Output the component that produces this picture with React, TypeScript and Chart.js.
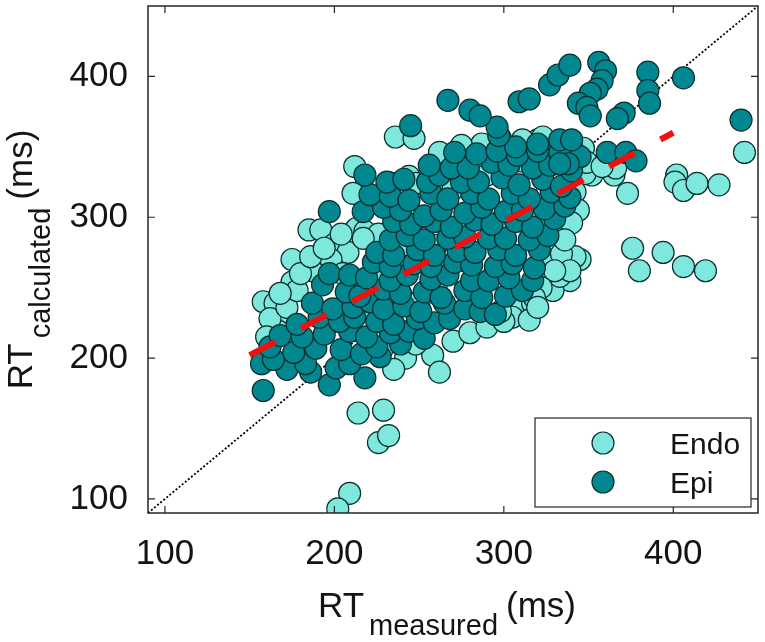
import { useEffect, useRef } from 'react';
import { Chart, registerables } from 'chart.js';

Chart.register(...registerables);

// RT measured / RT calculated (ms)
const endoPoints: [number, number][] = [
  [236, 357], [247, 356], [442, 346], [402, 330], [401, 325], [406, 319], [414, 324], [427, 323],
  [373, 317], [365, 330], [352, 330], [348, 331], [376, 278], [380, 262], [394, 275], [406, 265], [419, 262],
  [345, 270], [342, 272], [339, 255], [325, 253], [329, 248], [331, 265], [333, 258],
  [212, 336], [234, 324], [211, 317], [244, 329], [248, 324],
  [185, 291], [192, 291], [200, 281], [175, 270], [175, 254], [187, 262], [158, 240], [165, 239],
  [169, 226], [167, 219], [208, 275], [198, 270], [213, 292], [218, 290], [226, 288],
  [214, 161], [229, 163], [226, 140], [232, 145], [209, 104], [202, 93],
  [242, 200], [258, 202], [262, 190], [235, 192], [228, 206], [248, 210],
  [308, 231], [315, 233], [305, 236], [311, 236], [317, 239], [305, 229], [315, 227],
  [332, 291], [332, 297], [328, 267], [334, 274], [339, 262],
  [334, 352], [320, 355], [325, 352], [323, 357], [346, 344], [347, 349], [349, 339], [366, 335],
  [287, 352], [311, 355], [262, 346], [275, 351], [298, 356], [340, 350], [358, 336],
  [342, 318], [344, 305], [340, 296], [336, 284], [330, 262], [322, 250], [318, 243],
  [270, 212], [280, 218], [290, 222], [300, 226], [320, 236], [298, 233],
  [162, 228], [172, 236], [178, 248], [180, 260], [186, 272], [194, 278], [204, 288],
  [205, 260], [160, 215], [168, 246], [217, 285],
  [250, 300], [270, 320], [290, 330], [310, 340], [230, 260], [260, 250], [280, 270],
  [300, 280], [320, 300], [240, 280], [260, 280], [300, 300], [210, 250], [220, 235], [250, 240],
];

const epiPoints: [number, number][] = [
  [158, 177], [197, 181], [186, 190], [172, 192], [218, 186],
  [157, 196], [164, 199], [183, 196], [201, 193], [209, 196], [227, 201],
  [162, 208], [176, 204], [189, 207], [204, 206], [216, 203], [225, 208], [239, 210],
  [168, 216], [181, 215], [194, 217], [209, 219], [219, 215], [233, 218], [244, 219], [253, 214],
  [178, 224], [191, 229], [203, 226], [212, 229], [225, 226], [235, 224], [249, 228], [259, 225], [268, 228],
  [187, 239], [199, 235], [211, 236], [221, 240], [229, 235], [241, 237], [251, 233], [265, 239],
  [277, 235], [286, 233], [295, 231],
  [193, 252], [207, 247], [215, 244], [229, 249], [239, 246], [253, 247], [263, 243], [277, 248],
  [287, 243], [301, 244], [311, 248],
  [197, 260], [209, 259], [219, 257], [233, 255], [243, 259], [257, 256], [267, 259], [281, 255],
  [291, 255], [303, 257], [317, 255],
  [223, 268], [233, 265], [247, 267], [257, 265], [271, 268], [281, 266], [295, 265], [305, 267], [318, 264],
  [225, 275], [235, 273], [249, 277], [259, 273], [273, 276], [283, 275], [297, 277], [307, 273], [321, 277],
  [233, 284], [243, 287], [253, 284], [267, 285], [277, 286], [291, 285], [301, 285], [315, 284], [326, 287],
  [235, 297], [245, 295], [259, 297], [269, 293], [283, 298], [293, 295], [307, 297], [317, 293], [330, 299],
  [217, 304], [229, 307], [239, 305], [253, 301], [263, 305], [277, 303], [287, 307], [301, 304],
  [311, 305], [324, 306], [336, 308],
  [221, 316], [233, 315], [244, 312], [257, 317], [267, 313], [281, 317], [291, 313], [305, 317],
  [315, 313], [328, 318], [339, 314],
  [218, 330], [231, 325], [241, 327], [255, 325], [262, 330], [275, 325], [285, 325], [299, 328],
  [309, 323], [323, 327], [334, 322],
  [256, 337], [269, 335], [279, 335], [293, 339], [303, 337], [317, 335], [327, 337], [340, 333],
  [271, 346], [284, 345], [296, 347], [308, 344], [320, 347], [333, 346], [345, 343],
  [307, 350], [333, 355], [340, 355], [297, 358], [320, 352],
  [197, 304], [245, 365], [296, 364], [267, 383], [280, 376], [286, 372], [309, 382], [315, 384],
  [327, 394], [332, 401], [339, 408], [356, 410], [360, 404], [358, 397], [355, 391], [351, 388],
  [344, 381], [349, 378], [351, 372], [371, 374], [367, 370], [385, 403], [385, 390], [386, 381],
  [406, 399], [440, 369], [361, 346], [372, 346], [378, 340], [338, 338], [333, 338],
];

// linear fit drawn as the red dashed line, and the identity line
const fitLine: [number, number][] = [[150, 202], [400, 360]];
const identityLine: [number, number][] = [[90, 90], [450, 450]];

const axisRange = [90, 450];
const tickValues = [100, 200, 300, 400];

const FONT = "'Liberation Sans', Arial, Helvetica, sans-serif";
const INK = '#141414';
const ENDO_FILL = '#7de8db';
const EPI_FILL = '#00878f';
const EDGE = '#0c2e2e';

const toXY = (pts: [number, number][]) => pts.map(([x, y]) => ({ x, y }));

const framePlugin = {
  id: 'frame',
  afterDatasetsDraw(chart: any) {
    const { ctx, chartArea: a, scales } = chart;
    const tl = 7;
    ctx.save();
    ctx.strokeStyle = '#262626';
    ctx.lineWidth = 1.5;
    ctx.strokeRect(a.left, a.top, a.right - a.left, a.bottom - a.top);
    ctx.lineWidth = 1.2;
    ctx.beginPath();
    tickValues.forEach((v) => {
      const px = scales.x.getPixelForValue(v);
      ctx.moveTo(px, a.bottom);
      ctx.lineTo(px, a.bottom - tl);
      ctx.moveTo(px, a.top);
      ctx.lineTo(px, a.top + tl);
      const py = scales.y.getPixelForValue(v);
      ctx.moveTo(a.left, py);
      ctx.lineTo(a.left + tl, py);
      ctx.moveTo(a.right, py);
      ctx.lineTo(a.right - tl, py);
    });
    ctx.stroke();
    ctx.restore();
  },
  afterDraw(chart: any) {
    const { ctx, chartArea: a } = chart;
    const big = `35px ${FONT}`;
    const sub = `29px ${FONT}`;
    ctx.save();
    ctx.fillStyle = INK;
    ctx.textBaseline = 'alphabetic';
    ctx.textAlign = 'left';

    // axis title: main text, subscript, unit
    const drawTitle = (main: string, subText: string, unit: string) => {
      ctx.font = big;
      const w1 = ctx.measureText(main).width;
      const w3 = ctx.measureText(unit).width;
      ctx.font = sub;
      const w2 = ctx.measureText(subText).width;
      const total = w1 + 5 + w2 + 8 + w3;
      let x = -total / 2;
      ctx.font = big;
      ctx.fillText(main, x, 0);
      x += w1 + 5;
      ctx.font = sub;
      ctx.fillText(subText, x, 18);
      x += w2 + 8;
      ctx.font = big;
      ctx.fillText(unit, x, 0);
    };

    ctx.save();
    ctx.translate((a.left + a.right) / 2 - 6, 617);
    drawTitle('RT', 'measured', '(ms)');
    ctx.restore();

    ctx.save();
    ctx.translate(32, (a.top + a.bottom) / 2);
    ctx.rotate(-Math.PI / 2);
    drawTitle('RT', 'calculated', '(ms)');
    ctx.restore();

    // legend box in the lower right corner
    const bx = a.right - 223;
    const by = a.bottom - 95;
    ctx.fillStyle = '#ffffff';
    ctx.fillRect(bx, by, 216, 89);
    ctx.strokeStyle = '#262626';
    ctx.lineWidth = 1.2;
    ctx.strokeRect(bx, by, 216, 89);
    const entries = [
      { label: 'Endo', fill: ENDO_FILL, dy: 25 },
      { label: 'Epi', fill: EPI_FILL, dy: 64 },
    ];
    entries.forEach((e) => {
      ctx.beginPath();
      ctx.arc(bx + 68, by + e.dy, 11, 0, Math.PI * 2);
      ctx.fillStyle = e.fill;
      ctx.fill();
      ctx.strokeStyle = EDGE;
      ctx.lineWidth = 1.2;
      ctx.stroke();
      ctx.fillStyle = INK;
      ctx.font = `30px ${FONT}`;
      ctx.fillText(e.label, bx + 135, by + e.dy + 11);
    });
    ctx.restore();
  },
};

const axisOptions = (size: (s: any) => void) => ({
  type: 'linear' as const,
  min: axisRange[0],
  max: axisRange[1],
  grid: { display: false, drawTicks: false },
  border: { display: false },
  afterBuildTicks: (scale: any) => {
    scale.ticks = tickValues.map((value) => ({ value }));
  },
  afterFit: (scale: any) => {
    size(scale);
    scale.paddingTop = 0;
    scale.paddingBottom = 0;
    scale.paddingLeft = 0;
    scale.paddingRight = 0;
  },
  ticks: {
    padding: 20,
    color: INK,
    font: { family: FONT, size: 35 },
  },
});

export default function App() {
  const canvasRef = useRef<HTMLCanvasElement | null>(null);

  useEffect(() => {
    document.body.style.margin = '0';
    if (!canvasRef.current) return;
    const chart = new Chart(canvasRef.current, {
      type: 'scatter',
      data: {
        datasets: [
          {
            label: 'fit',
            data: toXY(fitLine),
            showLine: true,
            borderColor: '#f01010',
            borderWidth: 6,
            borderDash: [29, 29],
            borderCapStyle: 'butt',
            pointRadius: 0,
            order: 0,
          },
          {
            label: 'Epi',
            data: toXY(epiPoints),
            pointRadius: 11,
            backgroundColor: EPI_FILL,
            borderColor: EDGE,
            borderWidth: 1.2,
            order: 1,
          },
          {
            label: 'Endo',
            data: toXY(endoPoints),
            pointRadius: 11,
            backgroundColor: ENDO_FILL,
            borderColor: EDGE,
            borderWidth: 1.2,
            order: 2,
          },
          {
            label: 'identity',
            data: toXY(identityLine),
            showLine: true,
            borderColor: '#000000',
            borderWidth: 1.8,
            borderDash: [2, 2],
            pointRadius: 0,
            order: 3,
          },
        ],
      },
      options: {
        responsive: false,
        animation: false,
        events: [],
        layout: { autoPadding: false, padding: { top: 6, right: 7, left: 0, bottom: 0 } },
        plugins: {
          legend: { display: false },
          tooltip: { enabled: false },
        },
        scales: {
          x: axisOptions((s) => { s.height = 129; }),
          y: axisOptions((s) => { s.width = 148; }),
        },
      },
      plugins: [framePlugin],
    });
    return () => chart.destroy();
  }, []);

  return (
    <div style={{ width: 765, height: 642, background: '#ffffff' }}>
      <canvas ref={canvasRef} width={765} height={642} style={{ display: 'block' }} />
    </div>
  );
}
